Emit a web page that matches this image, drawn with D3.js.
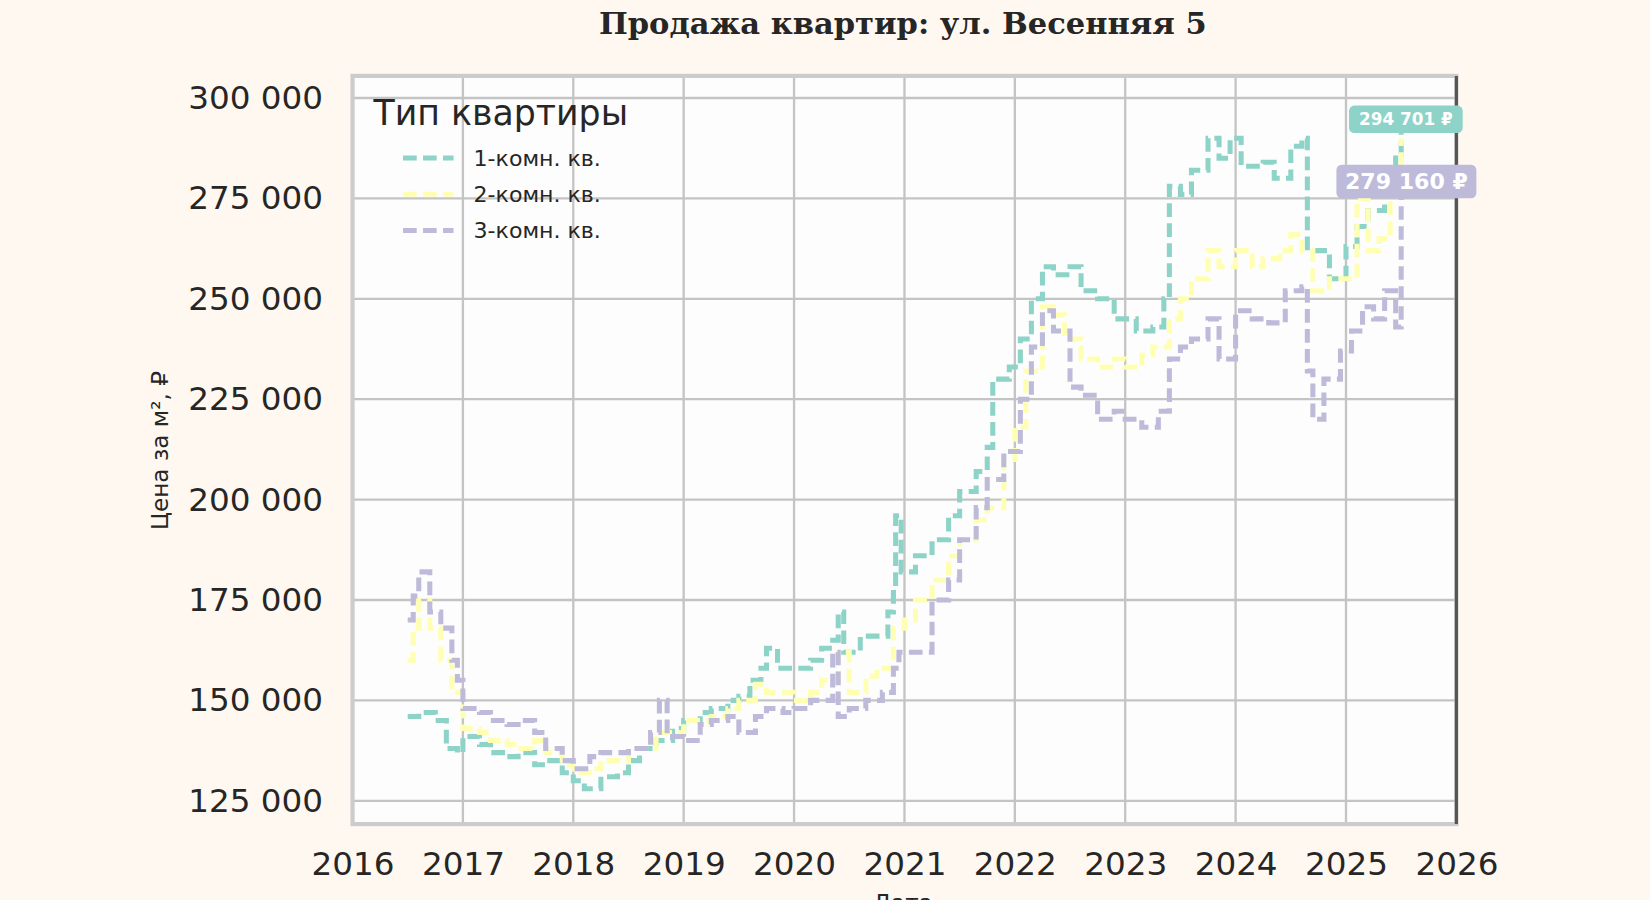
<!DOCTYPE html><html><head><meta charset="utf-8">
<script src="https://cdn.jsdelivr.net/npm/d3@7"></script>
<style>body{margin:0;background:#fff8f0}svg{display:block}</style></head><body>
<svg id="c" width="1650" height="900" viewBox="0 0 1568 855"></svg>
<script>
const seriesNames=["1-комн. кв.","2-комн. кв.","3-комн. кв."];
const colors=["#8dd3c7","#ffffb3","#bebada"];
const xTicks=[2016,2017,2018,2019,2020,2021,2022,2023,2024,2025,2026];
const yTicks=[125000,150000,175000,200000,225000,250000,275000,300000];
const s1=[[2016.5,146],[2016.6,147],[2016.75,145],[2016.85,138],[2016.95,137],[2017.0,141],[2017.15,139],[2017.25,137],[2017.4,136],[2017.5,137],[2017.65,134],[2017.75,135],[2017.9,132],[2018.0,130],[2018.1,128],[2018.25,131],[2018.4,132],[2018.5,135],[2018.6,138],[2018.75,140],[2018.9,143],[2019.0,145],[2019.15,147],[2019.25,148],[2019.4,150],[2019.5,151],[2019.6,155],[2019.7,158],[2019.75,163],[2019.85,158],[2020.0,158],[2020.15,160],[2020.25,163],[2020.35,165],[2020.4,172],[2020.45,162],[2020.6,166],[2020.75,166],[2020.85,172],[2020.9,178],[2020.92,196],[2020.97,182],[2021.1,186],[2021.25,190],[2021.4,196],[2021.5,202],[2021.65,207],[2021.75,213],[2021.8,230],[2021.95,233],[2022.05,240],[2022.15,250],[2022.25,258],[2022.35,256],[2022.5,258],[2022.6,252],[2022.75,250],[2022.9,245],[2023.0,245],[2023.1,242],[2023.25,243],[2023.35,250],[2023.4,278],[2023.5,276],[2023.6,282],[2023.75,290],[2023.85,285],[2023.95,290],[2024.05,283],[2024.25,284],[2024.35,280],[2024.5,288],[2024.6,290],[2024.65,262],[2024.75,262],[2024.85,255],[2025.0,263],[2025.1,268],[2025.2,272],[2025.35,278],[2025.45,286],[2025.5,294.7]];
const s2=[[2016.5,160],[2016.55,168],[2016.6,175],[2016.7,168],[2016.8,160],[2016.9,152],[2017.0,143],[2017.15,142],[2017.25,140],[2017.4,139],[2017.5,138],[2017.65,140],[2017.75,137],[2017.9,134],[2018.0,132],[2018.15,133],[2018.25,135],[2018.5,138],[2018.75,142],[2019.0,145],[2019.25,146],[2019.4,148],[2019.5,150],[2019.65,154],[2019.75,152],[2020.0,150],[2020.15,152],[2020.25,155],[2020.4,162],[2020.5,152],[2020.65,156],[2020.75,158],[2020.9,168],[2021.0,170],[2021.1,175],[2021.25,180],[2021.4,186],[2021.5,190],[2021.65,195],[2021.75,198],[2021.9,210],[2022.0,218],[2022.1,232],[2022.25,248],[2022.35,246],[2022.45,240],[2022.6,235],[2022.75,233],[2022.9,235],[2023.0,233],[2023.15,236],[2023.25,238],[2023.4,245],[2023.5,250],[2023.6,255],[2023.75,262],[2023.85,258],[2024.0,262],[2024.15,258],[2024.25,260],[2024.4,262],[2024.5,266],[2024.6,262],[2024.7,252],[2024.85,255],[2025.0,255],[2025.1,275],[2025.2,262],[2025.3,265],[2025.4,280],[2025.5,290]];
const s3=[[2016.5,170],[2016.55,176],[2016.6,182],[2016.7,172],[2016.8,168],[2016.9,160],[2016.95,155],[2017.0,148],[2017.15,147],[2017.25,145],[2017.4,144],[2017.5,145],[2017.65,142],[2017.75,138],[2017.9,135],[2018.0,133],[2018.15,136],[2018.25,137],[2018.5,138],[2018.7,142],[2018.78,150],[2018.85,141],[2019.0,140],[2019.15,144],[2019.25,145],[2019.4,146],[2019.5,142],[2019.65,146],[2019.75,148],[2019.9,147],[2020.0,148],[2020.15,150],[2020.25,150],[2020.35,162],[2020.4,146],[2020.5,148],[2020.65,150],[2020.8,152],[2020.9,158],[2020.95,162],[2021.05,162],[2021.25,175],[2021.4,180],[2021.5,190],[2021.65,198],[2021.75,205],[2021.9,212],[2022.05,225],[2022.15,238],[2022.25,247],[2022.35,242],[2022.5,228],[2022.6,226],[2022.75,220],[2022.9,222],[2023.0,220],[2023.15,218],[2023.3,222],[2023.4,235],[2023.5,238],[2023.6,240],[2023.75,245],[2023.85,235],[2024.0,247],[2024.15,245],[2024.3,244],[2024.45,252],[2024.6,253],[2024.65,232],[2024.7,220],[2024.8,230],[2024.95,237],[2025.05,242],[2025.15,248],[2025.25,245],[2025.35,252],[2025.45,243],[2025.5,279.2]];
const allSeries=[s1,s2,s3];
const lastLabels=["294 701 ₽",null,"279 160 ₽"];

const svg=d3.select("#c");
const W=1568,H=855,L=335,R=1384,T=72,B=783;
svg.append("rect").attr("width",W).attr("height",H).attr("fill","#fff8f0");
const x=d3.scaleLinear().domain([2016,2026]).range([L,R]);
const y=d3.scaleLinear().domain([119200,305500]).range([B,T]);
svg.append("rect").attr("x",L).attr("y",T).attr("width",R-L).attr("height",B-T).attr("fill","#fdfdfd");
const g=svg.append("g");
xTicks.forEach(t=>g.append("line").attr("x1",x(t)).attr("x2",x(t)).attr("y1",T).attr("y2",B).attr("stroke","#c4c4c4").attr("stroke-width",2.2));
yTicks.forEach(t=>g.append("line").attr("x1",L).attr("x2",R).attr("y1",y(t)).attr("y2",y(t)).attr("stroke","#c4c4c4").attr("stroke-width",2.2));
const fmt=v=>d3.format(",")(v).replace(/,/g," ");
const ya=svg.append("g").attr("transform",`translate(${L},0)`).call(d3.axisLeft(y).tickValues(yTicks).tickFormat(fmt).tickSize(0).tickPadding(28));
ya.select(".domain").remove();
ya.selectAll("text").attr("font-family","DejaVu Sans").attr("font-size",31).attr("fill","#262626");
const xa=svg.append("g").attr("transform",`translate(0,${B})`).call(d3.axisBottom(x).tickValues(xTicks).tickFormat(d3.format("d")).tickSize(0).tickPadding(26));
xa.select(".domain").remove();
xa.selectAll("text").attr("font-family","DejaVu Sans").attr("font-size",31).attr("fill","#262626");
const line=d3.line().x(d=>x(d[0])).y(d=>y(d[1]*1000)).curve(d3.curveStepAfter);
allSeries.forEach((s,i)=>svg.append("path").attr("d",line(s)).attr("fill","none").attr("stroke",colors[i]).attr("stroke-width",4.8).attr("stroke-dasharray","13,6"));
svg.append("rect").attr("x",L).attr("y",T).attr("width",R-L).attr("height",B-T).attr("fill","none").attr("stroke","#cccccc").attr("stroke-width",4);
svg.append("line").attr("x1",R).attr("x2",R).attr("y1",T).attr("y2",B).attr("stroke","#555").attr("stroke-width",3);
[[0,"#8dd3c7",16,1282,108,26],[2,"#bebada",21,1270,133,32]].forEach(([i,c,fs,bx,bw,bh])=>{
  const s=allSeries[i],v=s[s.length-1][1]*1000,cy=y(v);
  svg.append("rect").attr("x",bx).attr("y",cy-bh/2).attr("width",bw).attr("height",bh).attr("rx",5).attr("fill",c);
  svg.append("text").attr("x",bx+bw/2).attr("y",cy).attr("dy","0.36em").attr("text-anchor","middle").attr("font-family","DejaVu Sans").attr("font-weight","bold").attr("font-size",fs).attr("fill","#fff").text(lastLabels[i]);
});
svg.append("text").attr("x",355).attr("y",119).attr("font-family","DejaVu Sans").attr("font-size",33).attr("fill","#262626").text("Тип квартиры");
seriesNames.forEach((n,i)=>{
  const yy=150+i*34.5;
  svg.append("line").attr("x1",383).attr("x2",431).attr("y1",yy).attr("y2",yy).attr("stroke",colors[i]).attr("stroke-width",4.8).attr("stroke-dasharray","13,6");
  svg.append("text").attr("x",450).attr("y",yy).attr("dy","0.35em").attr("font-family","DejaVu Sans").attr("font-size",21).attr("fill","#262626").text(n);
});
svg.append("text").attr("x",858).attr("y",32).attr("text-anchor","middle").attr("font-family","DejaVu Serif").attr("font-weight","bold").attr("font-size",29).attr("fill","#262626").text("Продажа квартир: ул. Весенняя 5");
svg.append("text").attr("transform","translate(160,428) rotate(-90)").attr("text-anchor","middle").attr("font-family","DejaVu Sans").attr("font-size",22).attr("fill","#262626").text("Цена за м², ₽");
svg.append("text").attr("x",858).attr("y",866).attr("text-anchor","middle").attr("font-family","DejaVu Sans").attr("font-size",22).attr("fill","#262626").text("Дата");
</script></body></html>
